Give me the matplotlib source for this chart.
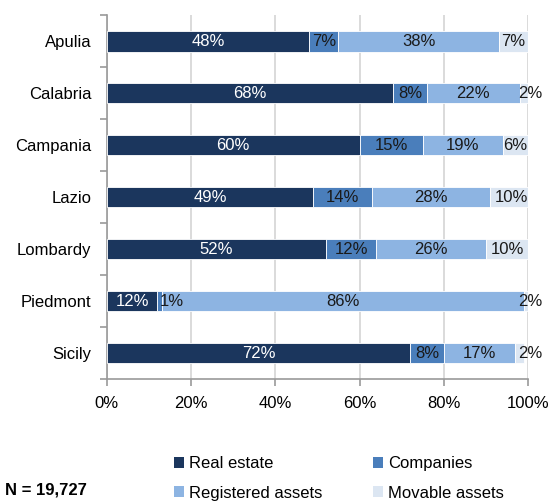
import numpy as np
import matplotlib.pyplot as plt
from matplotlib.patches import Patch

plt.rcParams['font.family'] = ['Liberation Sans', 'DejaVu Sans']

regions = ['Apulia', 'Calabria', 'Campania', 'Lazio', 'Lombardy', 'Piedmont', 'Sicily']
real_estate = [48, 68, 60, 49, 52, 12, 72]
companies = [7, 8, 15, 14, 12, 1, 8]
registered = [38, 22, 19, 28, 26, 86, 17]
movable = [7, 2, 6, 10, 10, 2, 2]

series = ['Real estate', 'Companies', 'Registered assets', 'Movable assets']
colors = ['#1b365d', '#4a7ebb', '#8db4e2', '#dce6f2']
text_colors = ['white', '#1a1a1a', '#1a1a1a', '#1a1a1a']
values = [real_estate, companies, registered, movable]

fs = 12

fig = plt.figure(figsize=(5.48, 5.04), dpi=100)
ax = fig.add_axes([0.195, 0.248, 0.7685, 0.722])

y = np.arange(len(regions))
left = np.zeros(len(regions))
for vals, col, tc, name in zip(values, colors, text_colors, series):
    vals = np.array(vals, dtype=float)
    ax.barh(y, vals, left=left, height=0.4, color=col, edgecolor='white',
            linewidth=0.6, label=name, zorder=3)
    for yi, (l, v) in enumerate(zip(left, vals)):
        # narrow segments: label starts at the segment instead of centred
        if v <= 2:
            ax.text(min(l, 97) + 0.6, yi, f'{int(v)}%', ha='left', va='center',
                    color=tc, fontsize=fs, zorder=4)
        else:
            ax.text(l + v / 2, yi, f'{int(v)}%', ha='center', va='center',
                    color=tc, fontsize=fs, zorder=4)
    left += vals

ax.set_xlim(0, 100)
ax.set_ylim(len(regions) - 0.5, -0.5)
ax.set_xticks(np.arange(0, 101, 20))
ax.set_xticklabels([f'{t}%' for t in range(0, 101, 20)], fontsize=fs)
ax.set_yticks(y)
ax.set_yticklabels(regions, fontsize=fs)
ax.set_yticks(np.arange(-0.5, len(regions), 1), minor=True)
ax.tick_params(axis='y', which='major', length=0, pad=11)
ax.tick_params(axis='y', which='minor', length=5, color='#9a9a9a', width=1.2)
ax.tick_params(axis='x', length=5, color='#9a9a9a', width=1.2, pad=7)
ax.grid(axis='x', color='#d4d4d4', linewidth=1.2, zorder=0)
for s in ['top', 'right']:
    ax.spines[s].set_visible(False)
for s in ['left', 'bottom']:
    ax.spines[s].set_color('#9a9a9a')
    ax.spines[s].set_linewidth(1.2)

# legend fills column-wise, so reorder to get rows: Real/Companies, Registered/Movable
order = [0, 2, 1, 3]
handles = [Patch(facecolor=colors[i], edgecolor='none') for i in order]
labels = [series[i] for i in order]
fig.legend(handles, labels, ncol=2, frameon=False, loc='upper left',
           bbox_to_anchor=(0.303, 0.111), fontsize=fs,
           handlelength=0.6, handleheight=0.6, handletextpad=0.3,
           labelspacing=0.85, columnspacing=3.0, borderpad=0)

fig.text(0.01, 0.027, 'N = 19,727', fontsize=fs, fontweight='bold',
         ha='left', va='center')

fig.savefig('out.png', dpi=100)
